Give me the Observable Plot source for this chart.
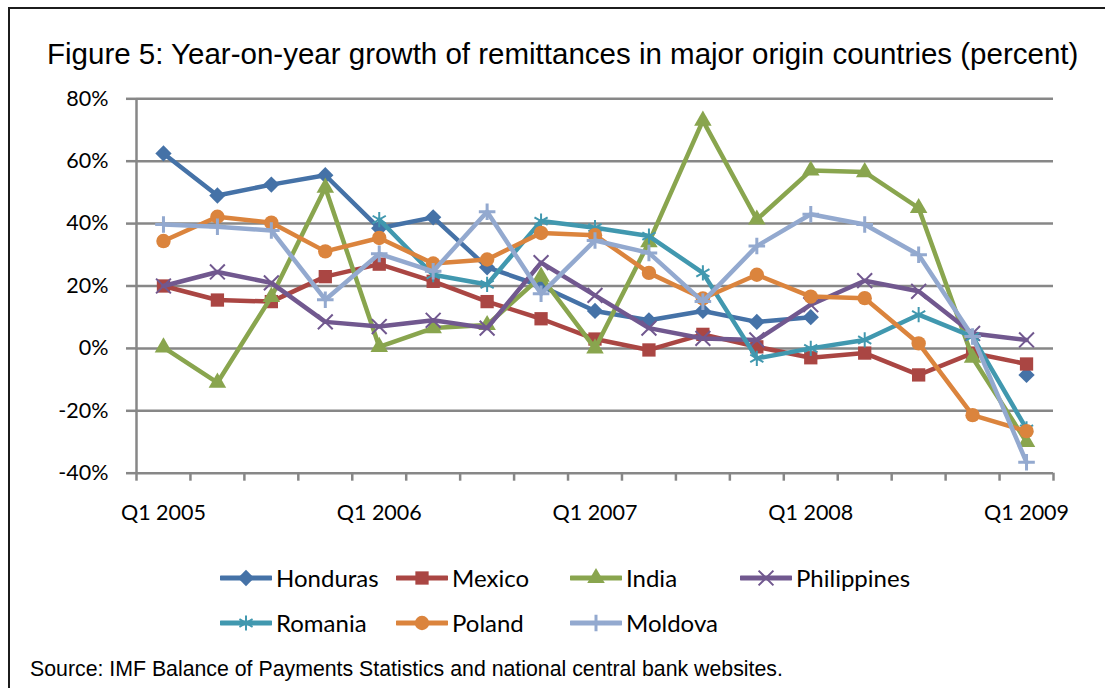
<!DOCTYPE html>
<html>
<head>
<meta charset="utf-8">
<script src="https://cdn.jsdelivr.net/npm/d3@7"></script>
<script src="https://cdn.jsdelivr.net/npm/@observablehq/plot@0.6"></script>
<style>
  body { margin: 0; background: #fff; }
  #fig { position: relative; width: 1105px; height: 688px; overflow: hidden; background: #fff; }
  #frame { position: absolute; left: 8px; top: 7px; width: 1300px; height: 900px;
           border-left: 2px solid #1c1c1c; border-top: 2px solid #1c1c1c; }
  #title { position: absolute; left: 47px; top: 39px; font: 29.5px/29.5px "Liberation Sans", Arial, sans-serif;
           white-space: nowrap; color: #000; }
  #chart { position: absolute; left: 0; top: 84px; }
  #legend { position: absolute; left: 220px; top: 565px; display: grid;
            grid-template-columns: 176px 174px 170px auto; row-gap: 19px;
            font: 24px/26px Lato, sans-serif; color: #000; }
  #legend .item { display: flex; align-items: center; height: 26px; white-space: nowrap; }
  #legend svg { display: block; margin-right: 4px; }
  #source { position: absolute; left: 30px; top: 659px; font: 21.3px/21.3px "Liberation Sans", Arial, sans-serif;
            white-space: nowrap; color: #000; }
</style>
</head>
<body>
<div id="fig">
  <div id="frame"></div>
  <div id="title">Figure 5: Year-on-year growth of remittances in major origin countries (percent)</div>
  <div id="chart"></div>
  <div id="legend"></div>
  <div id="source">Source: IMF Balance of Payments Statistics and national central bank websites.</div>
</div>
<script>
// Quarters on the category axis
const quarters = ["Q1 2005", "Q2 2005", "Q3 2005", "Q4 2005",
                  "Q1 2006", "Q2 2006", "Q3 2006", "Q4 2006",
                  "Q1 2007", "Q2 2007", "Q3 2007", "Q4 2007",
                  "Q1 2008", "Q2 2008", "Q3 2008", "Q4 2008",
                  "Q1 2009"];
const labelledQuarters = ["Q1 2005", "Q1 2006", "Q1 2007", "Q1 2008", "Q1 2009"];
const yTicks = [-40, -20, 0, 20, 40, 60, 80];

// Year-on-year growth of remittances, percent (null = no data)
const countries = ["Honduras", "Mexico", "India", "Philippines", "Romania", "Poland", "Moldova"];
const honduras    = [62.5, 49, 52.5, 55.5, 38.5, 42, 26, 20, 12, 9, 12, 8.5, 10, null, null, null, -8.5];
const mexico      = [20, 15.5, 15, 23, 27, 21.5, 15, 9.5, 3, -0.5, 4.5, 0.5, -3, -1.5, -8.5, -1.5, -5];
const india       = [0.3, -11, 16.5, 51.5, 0.5, 6.5, 7.5, 23, 0, 34, 73, 41.3, 57, 56.5, 45, -3, -30];
const philippines = [20, 24.5, 21, 8.5, 7, 9, 6.5, 27.5, 17, 6.5, 3.2, 2.7, 14, 21.7, 18.3, 4.8, 2.7];
const romania     = [null, null, null, null, 41.3, 23.6, 20.5, 40.8, 38.7, 36, 24.2, -3.2, 0, 2.7, 10.8, 3.8, -25.8];
const poland      = [34.4, 42.2, 40.3, 31.1, 35.4, 27.2, 28.5, 37, 36.3, 24.2, 16, 23.6, 16.6, 16.1, 1.6, -21.4, -26.5];
const moldova     = [39.7, 39, 37.8, 15.6, 30.3, 24.7, 43.8, 17.5, 34.6, 30.6, 15, 32.8, 43, 39.7, 30, 3.8, -36.5];
const seriesValues = [honduras, mexico, india, philippines, romania, poland, moldova];

const colors = ["#4572A7", "#AA4643", "#89A54E", "#71588F", "#4198AF", "#DB843D", "#93A9CF"];

// Diamond drawn as a square standing on its corner
const symbolRhombus = {
  draw(context, size) {
    const s = Math.sqrt(size / 2);
    context.moveTo(0, -s); context.lineTo(s, 0); context.lineTo(0, s); context.lineTo(-s, 0); context.closePath();
  }
};

// Marker style for each series
const markers = [
  {symbol: symbolRhombus,     r: 6.5, filled: true},
  {symbol: d3.symbolSquare,   r: 7.5, filled: true},
  {symbol: d3.symbolTriangle, r: 6.5, filled: true},
  {symbol: d3.symbolTimes,    r: 6.8, filled: false, width: 2},
  {symbol: d3.symbolAsterisk, r: 7.2, filled: false, width: 2},
  {symbol: d3.symbolCircle,   r: 7.2, filled: true},
  {symbol: d3.symbolPlus,     r: 5.4, filled: false, width: 3}
];

// Long table: one row per country and quarter
const rows = countries.flatMap((country, k) =>
  quarters.map((quarter, i) => ({country, quarter, i, value: seriesValues[k][i]}))
);

const xDomain = [-0.5, quarters.length - 0.5];
const boundaries = d3.range(quarters.length + 1).map(i => i - 0.5);
const labelIndex = labelledQuarters.map(q => quarters.indexOf(q));
const gridColor = "#878787";

const seriesMarks = countries.flatMap((country, k) => {
  const data = rows.filter(d => d.country === country);
  const m = markers[k];
  return [
    Plot.line(data, {x: "i", y: "value", stroke: colors[k], strokeWidth: 4.5,
                     strokeLinejoin: "round", strokeLinecap: "round"}),
    Plot.dot(data.filter(d => d.value != null), {
      x: "i", y: "value", symbol: m.symbol, r: m.r,
      fill: m.filled ? colors[k] : "none",
      stroke: m.filled ? "none" : colors[k],
      strokeWidth: m.width || 1
    })
  ];
});

const chart = Plot.plot({
  width: 1105,
  height: 450,
  marginTop: 14.3,
  marginBottom: 61.3,
  marginLeft: 136,
  marginRight: 52,
  style: {fontFamily: "Lato, sans-serif", fontSize: "21.5px", color: "#000", background: "transparent"},
  x: {type: "linear", domain: xDomain},
  y: {domain: [yTicks[0], yTicks[yTicks.length - 1]]},
  marks: [
    Plot.gridY(yTicks, {stroke: gridColor, strokeOpacity: 1, strokeWidth: 2.5}),
    Plot.ruleX([xDomain[0]], {stroke: gridColor, strokeWidth: 2.5}),
    Plot.axisY(yTicks, {tickSize: 10, tickPadding: 18, stroke: gridColor, strokeWidth: 2.5,
                        fill: "#000", tickFormat: d => d + "%", label: null}),
    Plot.axisX(boundaries, {tickSize: 8, stroke: gridColor, strokeWidth: 2.5, tickFormat: () => "", label: null}),
    Plot.axisX(labelIndex, {tickSize: 0, tickPadding: 32, fill: "#000", tickFormat: i => quarters[i], label: null}),
    ...seriesMarks
  ]
});
document.getElementById("chart").append(chart);

// Legend: line swatch with the series marker, then the name
const legend = d3.select("#legend");
countries.forEach((country, k) => {
  const m = markers[k];
  const item = legend.append("div").attr("class", "item");
  const svg = item.append("svg").attr("width", 52).attr("height", 26);
  svg.append("line").attr("x1", 1).attr("x2", 51).attr("y1", 13).attr("y2", 13)
    .attr("stroke", colors[k]).attr("stroke-width", 5).attr("stroke-linecap", "round");
  svg.append("path").attr("transform", "translate(26,13)")
    .attr("d", d3.symbol(m.symbol, Math.PI * m.r * m.r)())
    .attr("fill", m.filled ? colors[k] : "none")
    .attr("stroke", m.filled ? "none" : colors[k])
    .attr("stroke-width", m.width || 0);
  item.append("span").text(country);
});
</script>
</body>
</html>
